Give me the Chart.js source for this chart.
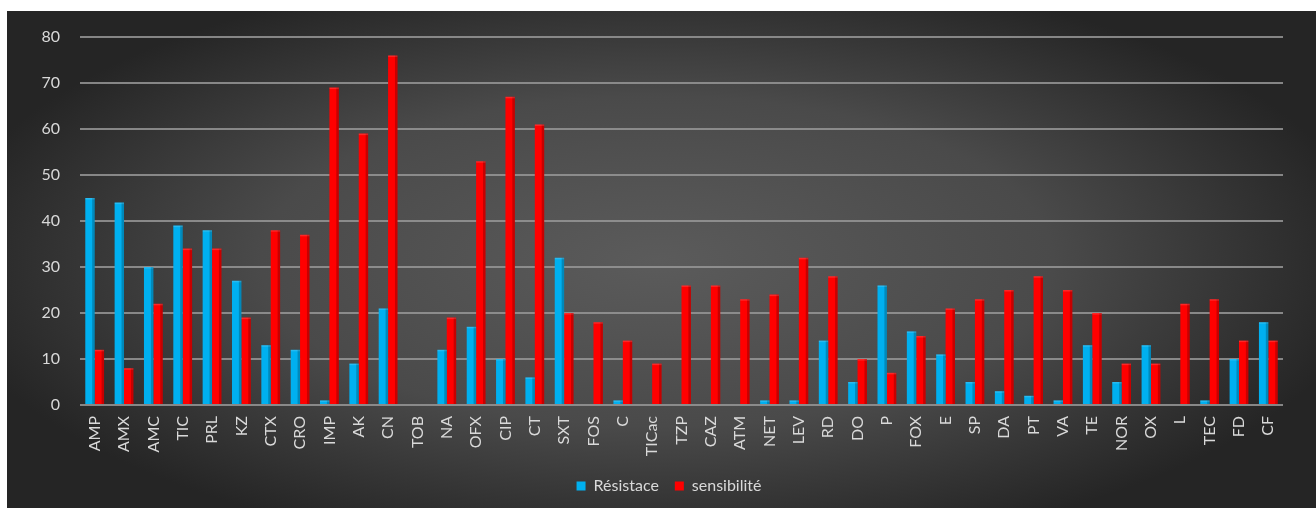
<!DOCTYPE html>
<html>
<head>
<meta charset="utf-8">
<script src="https://cdn.jsdelivr.net/npm/chart.js@4/dist/chart.umd.min.js"></script>
<style>
  html, body { margin: 0; padding: 0; background: #fff; }
  #wrap { position: absolute; left: 7px; top: 11px; width: 1309px; height: 497px; }
</style>
</head>
<body>
<div id="wrap"><canvas id="chart"></canvas></div>
<script>
const labels = ["AMP", "AMX", "AMC", "TIC", "PRL", "KZ", "CTX", "CRO", "IMP", "AK", "CN", "TOB", "NA",
  "OFX", "CIP", "CT", "SXT", "FOS", "C", "TICac", "TZP", "CAZ", "ATM", "NET", "LEV", "RD", "DO", "P",
  "FOX", "E", "SP", "DA", "PT", "VA", "TE", "NOR", "OX", "L", "TEC", "FD", "CF"];
const resistance = [45, 44, 30, 39, 38, 27, 13, 12, 1, 9, 21, 0, 12,
  17, 10, 6, 32, 0, 1, 0, 0, 0, 0, 1, 1, 14, 5, 26,
  16, 11, 5, 3, 2, 1, 13, 5, 13, 0, 1, 10, 18];
const sensibilite = [12, 8, 22, 34, 34, 19, 38, 37, 69, 59, 76, 0, 19,
  53, 67, 61, 20, 18, 14, 9, 26, 26, 23, 24, 32, 28, 10, 7,
  15, 21, 23, 25, 28, 25, 20, 9, 9, 22, 23, 14, 14];
const yTicks = [0, 10, 20, 30, 40, 50, 60, 70, 80];

// dark radial background behind everything, legend nudged right like the original
const background = {
  id: "background",
  beforeDraw(chart) {
    const { ctx, width, height } = chart;
    chart.legend.left = 48;
    ctx.save();
    const sx = 2.4;
    ctx.scale(sx, 1);
    const cx = 650 / sx, cy = 250;
    const g = ctx.createRadialGradient(cx, cy, 0, cx, cy, 300);
    g.addColorStop(0, "#5b5b5b");
    g.addColorStop(0.55, "#4a4a4a");
    g.addColorStop(1, "#252525");
    ctx.fillStyle = g;
    ctx.fillRect(0, 0, width / sx, height);
    ctx.restore();
  }
};

// darker right face so bars look a bit like the 3D ones
const shade = {
  id: "shade",
  afterDatasetsDraw(chart) {
    const ctx = chart.ctx;
    chart.data.datasets.forEach((ds, i) => {
      chart.getDatasetMeta(i).data.forEach(bar => {
        const h = bar.base - bar.y;
        if (h <= 0) return;
        const right = bar.x + bar.width / 2;
        ctx.fillStyle = "rgba(0,0,0,0.22)";
        ctx.fillRect(right - 2.5, bar.y, 2.5, h);
        ctx.fillStyle = "rgba(255,255,255,0.15)";
        ctx.fillRect(bar.x - bar.width / 2, bar.y, bar.width, 1.5);
      });
    });
  }
};

new Chart(document.getElementById("chart"), {
  type: "bar",
  data: {
    labels: labels,
    datasets: [
      { label: "Résistace", data: resistance, backgroundColor: "#00b0f0" },
      { label: "sensibilité", data: sensibilite, backgroundColor: "#ff0000" }
    ]
  },
  options: {
    responsive: true,
    maintainAspectRatio: false,
    animation: false,
    layout: { padding: { top: 0, right: 33, bottom: 4, left: 0 } },
    datasets: { bar: { barPercentage: 1, categoryPercentage: 0.64 } },
    plugins: {
      legend: {
        position: "bottom",
        labels: {
          color: "#d9d9d9",
          font: { family: "Lato", size: 16 },
          boxWidth: 9,
          boxHeight: 9,
          padding: 16
        }
      },
      tooltip: { enabled: false }
    },
    scales: {
      x: {
        grid: { display: false, drawTicks: false },
        border: { display: false },
        ticks: {
          color: "#d9d9d9",
          font: { family: "Lato", size: 16 },
          maxRotation: 90,
          minRotation: 90,
          autoSkip: false,
          padding: 11
        },
        afterFit(scale) { scale.height = 57; }
      },
      y: {
        min: 0,
        max: 80,
        afterBuildTicks(scale) { scale.ticks = yTicks.map(v => ({ value: v })); },
        grid: { color: "rgba(150,150,150,0.85)", lineWidth: 2, drawTicks: false },
        border: { display: false },
        ticks: {
          color: "#d9d9d9",
          font: { family: "Lato", size: 16 },
          padding: 20
        },
        afterFit(scale) { scale.width = 73; scale.paddingTop = 26; }
      }
    }
  },
  plugins: [background, shade]
});
</script>
</body>
</html>
